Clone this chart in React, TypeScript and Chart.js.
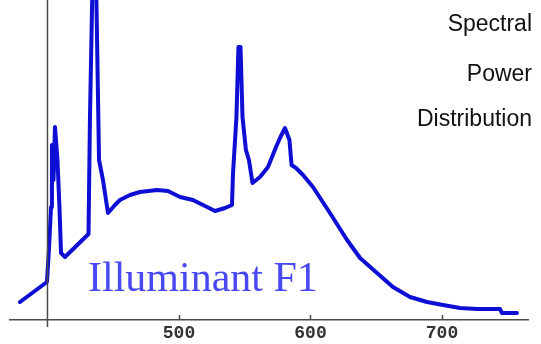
import { useEffect, useRef } from 'react';
import { Chart, registerables } from 'chart.js';

Chart.register(...registerables);

// Relative spectral power of a daylight fluorescent lamp, by wavelength (nm)
const wavelengths = [
  379.1, 399.6, 401.1, 402.7, 403.4, 404.6, 405.7, 407.6, 409.1, 410.3,
  413.3, 431.2, 432.3, 435.7, 439.2, 442.2, 444.5, 446.0, 451.3, 455.1,
  462.7, 470.3, 483.3, 491.6, 500.8, 510.6, 519.8, 527.4, 535.0, 540.3,
  541.1, 543.7, 545.2, 546.8, 548.3, 550.9, 553.2, 555.9, 561.6, 567.7,
  573.8, 576.8, 580.6, 584.0, 585.6, 589.0, 594.3, 601.9, 614.8, 627.8,
  637.7, 650.6, 662.7, 675.7, 688.6, 700.8, 713.7, 726.6, 744.1, 745.6,
  757.0,
];
const power = [
  1.8, 3.8, 7.0, 11.3, 17.5, 14.0, 19.3, 16.0, 11.3, 6.7,
  6.3, 8.6, 20.2, 44.0, 16.0, 14.0, 12.0, 10.7, 11.5, 12.0,
  12.5, 12.8, 13.0, 12.9, 12.3, 12.0, 11.4, 10.9, 11.2, 11.5,
  14.7, 20.3, 27.3, 27.3, 20.3, 17.0, 16.0, 13.7, 14.3, 15.3,
  17.3, 18.2, 19.2, 18.0, 15.5, 15.2, 14.5, 13.3, 10.7, 8.0,
  6.2, 4.7, 3.3, 2.3, 1.8, 1.5, 1.2, 1.1, 1.1, 0.7,
  0.7,
];
const tickValues = [500, 600, 700];
const axisOrigin = 400;
const sideTitle = ['Spectral', 'Power', 'Distribution'];
const illuminantName = 'Illuminant F1';

const AXIS_COLOR = '#4a4a4a';

const decorations = {
  id: 'decorations',
  afterDraw(chart: any) {
    const { ctx, chartArea, scales } = chart;
    const xs = scales.x;
    ctx.save();

    // vertical axis through the origin wavelength
    const ox = xs.getPixelForValue(axisOrigin);
    ctx.strokeStyle = AXIS_COLOR;
    ctx.lineWidth = 1.5;
    ctx.beginPath();
    ctx.moveTo(ox, 0);
    ctx.lineTo(ox, chartArea.bottom + 7);
    ctx.stroke();

    // short inward tick marks on the wavelength axis
    ctx.beginPath();
    tickValues.forEach((v) => {
      const px = Math.round(xs.getPixelForValue(v)) + 0.5;
      ctx.moveTo(px, chartArea.bottom - 5);
      ctx.lineTo(px, chartArea.bottom);
    });
    ctx.stroke();

    // right-hand title block
    ctx.fillStyle = '#111111';
    ctx.font = '23px "Liberation Sans", Arial, sans-serif';
    ctx.textAlign = 'right';
    ctx.textBaseline = 'alphabetic';
    const baselines = [31, 81, 126];
    sideTitle.forEach((t, i) => ctx.fillText(t, 532, baselines[i]));

    // illuminant name
    ctx.fillStyle = '#4848f2';
    ctx.font = '42px "Liberation Serif", "Times New Roman", serif';
    ctx.textAlign = 'left';
    ctx.fillText(illuminantName, 88, 291);

    ctx.restore();
  },
};

export default function App() {
  const canvasRef = useRef<HTMLCanvasElement | null>(null);

  useEffect(() => {
    const canvas = canvasRef.current;
    if (!canvas) return;
    const chart = new Chart(canvas, {
      type: 'line',
      data: {
        datasets: [
          {
            data: wavelengths.map((w, i) => ({ x: w, y: power[i] })),
            borderColor: 'rgb(14, 14, 212)',
            borderWidth: 4,
            borderJoinStyle: 'round',
            borderCapStyle: 'round',
            pointRadius: 0,
            tension: 0,
            fill: false,
          },
        ],
      },
      options: {
        animation: false,
        responsive: false,
        devicePixelRatio: 1,
        layout: { padding: { left: 10, right: 13, top: 0, bottom: 0 } },
        plugins: {
          legend: { display: false },
          tooltip: { enabled: false },
          title: { display: false },
        },
        scales: {
          x: {
            type: 'linear',
            min: 371.5,
            max: 765.4,
            afterBuildTicks: (scale: any) => {
              scale.ticks = tickValues.map((v) => ({ value: v }));
            },
            afterFit: (scale: any) => {
              scale.height = 24;
            },
            grid: { display: false, drawTicks: false },
            border: { display: true, color: AXIS_COLOR, width: 1.5 },
            ticks: {
              padding: 3,
              autoSkip: false,
              maxRotation: 0,
              color: '#333333',
              font: { family: '"Liberation Mono", monospace', size: 18, weight: 'bold' },
            },
          },
          y: { display: false, min: 0, max: 32 },
        },
      },
      plugins: [decorations],
    });
    return () => chart.destroy();
  }, []);

  return (
    <div style={{ position: 'absolute', left: 0, top: 0, width: 541, height: 344, background: '#ffffff' }}>
      <canvas ref={canvasRef} width={541} height={344} />
    </div>
  );
}
